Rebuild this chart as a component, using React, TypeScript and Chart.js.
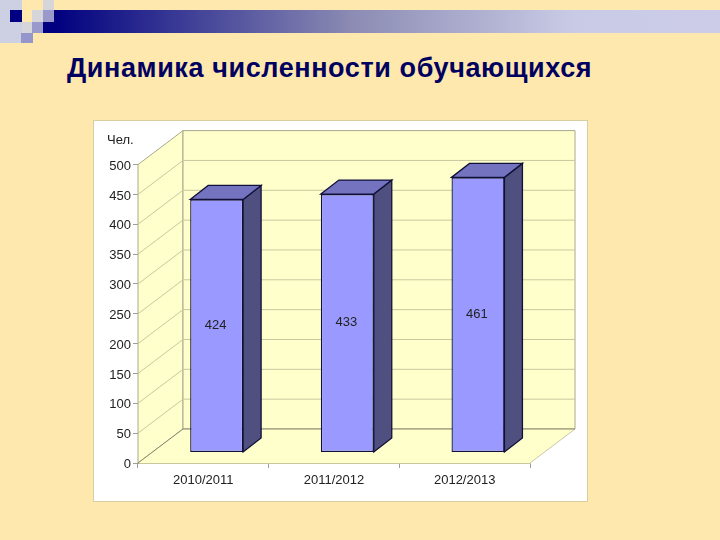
import React, { useRef, useEffect } from 'react';
import { Chart, registerables } from 'chart.js';

Chart.register(...registerables);

const categories = ['2010/2011', '2011/2012', '2012/2013'];
const students = [424, 433, 461];
const yTicks = [0, 50, 100, 150, 200, 250, 300, 350, 400, 450, 500];

// fake 3D: how far the back wall and the bars are pushed from the front plane
const WALL_DX = 45;
const WALL_DY = -34;
const BAR_SHIFT_X = 13.3;
const BAR_SHIFT_Y = -10.5;
const BAR_DX = 18;
const BAR_DY = -14;

const poly = (ctx: CanvasRenderingContext2D, pts: number[][], fill: string | null, stroke: string | null, lw = 1) => {
    ctx.beginPath();
    pts.forEach((p, i) => (i ? ctx.lineTo(p[0], p[1]) : ctx.moveTo(p[0], p[1])));
    ctx.closePath();
    if (fill) {
        ctx.fillStyle = fill;
        ctx.fill();
    }
    if (stroke) {
        ctx.strokeStyle = stroke;
        ctx.lineWidth = lw;
        ctx.stroke();
    }
};

const box3d = {
    id: 'box3d',
    beforeDatasetsDraw(chart: any) {
        const { ctx, chartArea, scales } = chart;
        const { left, right, top, bottom } = chartArea;
        const wall = '#FFFFCC';
        const edge = '#A8A890';
        const grid = '#C8C8A0';
        ctx.save();
        poly(ctx, [[left, top], [left + WALL_DX, top + WALL_DY], [left + WALL_DX, bottom + WALL_DY], [left, bottom]], wall, edge);
        poly(ctx, [[left + WALL_DX, top + WALL_DY], [right + WALL_DX, top + WALL_DY], [right + WALL_DX, bottom + WALL_DY], [left + WALL_DX, bottom + WALL_DY]], wall, edge);
        poly(ctx, [[left, bottom], [right, bottom], [right + WALL_DX, bottom + WALL_DY], [left + WALL_DX, bottom + WALL_DY]], wall, null);
        ctx.strokeStyle = grid;
        ctx.lineWidth = 1;
        ctx.beginPath();
        ctx.moveTo(right, bottom);
        ctx.lineTo(right + WALL_DX, bottom + WALL_DY);
        yTicks.forEach((v) => {
            if (v === 0 || v === 500) return;
            const y = scales.y.getPixelForValue(v);
            ctx.moveTo(left, y);
            ctx.lineTo(left + WALL_DX, y + WALL_DY);
            ctx.lineTo(right + WALL_DX, y + WALL_DY);
        });
        ctx.stroke();
        ctx.strokeStyle = '#86866E';
        ctx.beginPath();
        ctx.moveTo(left, bottom);
        ctx.lineTo(left + WALL_DX, bottom + WALL_DY);
        ctx.lineTo(right + WALL_DX, bottom + WALL_DY);
        ctx.stroke();

        // side and top faces sit behind the bar that chart.js draws
        const line = '#10103A';
        chart.getDatasetMeta(0).data.forEach((bar: any) => {
            const l = bar.x - bar.width / 2 + BAR_SHIFT_X;
            const r = bar.x + bar.width / 2 + BAR_SHIFT_X;
            const t = bar.y + BAR_SHIFT_Y;
            const b = bar.base + BAR_SHIFT_Y;
            poly(ctx, [[r, t], [r + BAR_DX, t + BAR_DY], [r + BAR_DX, b + BAR_DY], [r, b]], '#4F4F80', line, 1.3);
            poly(ctx, [[l, t], [l + BAR_DX, t + BAR_DY], [r + BAR_DX, t + BAR_DY], [r, t]], '#7373BF', line, 1.3);
        });
        ctx.restore();
        // bars are drawn by the library, only moved back into the box
        ctx.save();
        ctx.translate(BAR_SHIFT_X, BAR_SHIFT_Y);
    },
    afterDatasetsDraw(chart: any) {
        const { ctx } = chart;
        ctx.restore();
        ctx.save();
        ctx.font = '13px "Liberation Sans"';
        ctx.fillStyle = '#222222';
        ctx.textAlign = 'center';
        ctx.textBaseline = 'middle';
        chart.getDatasetMeta(0).data.forEach((bar: any, i: number) => {
            ctx.fillText(String(students[i]), bar.x + BAR_SHIFT_X - 1, (bar.y + bar.base) / 2 + BAR_SHIFT_Y - 0.5);
        });
        ctx.textAlign = 'left';
        ctx.fillText('Чел.', 107, 140.5);
        ctx.restore();
    },
};

export default function App() {
    const canvasRef = useRef<HTMLCanvasElement>(null);

    useEffect(() => {
        if (!canvasRef.current) return;
        document.body.style.margin = '0';
        const tickFont = { family: '"Liberation Sans"', size: 13 };
        const axisGrid = { drawOnChartArea: false, drawTicks: true, tickLength: 5, color: '#A0A090' };
        const chart = new Chart(canvasRef.current, {
            type: 'bar',
            data: {
                labels: categories,
                datasets: [
                    {
                        data: students,
                        backgroundColor: '#9999FF',
                        borderColor: '#10103A',
                        borderWidth: 1.3,
                        borderSkipped: false,
                        categoryPercentage: 0.405,
                        barPercentage: 1,
                    },
                ],
            },
            options: {
                responsive: false,
                animation: false,
                layout: { padding: { left: 0, right: 190, top: 164.6, bottom: 0 } },
                plugins: { legend: { display: false }, tooltip: { enabled: false } },
                scales: {
                    x: {
                        grid: axisGrid,
                        border: { color: '#C8C8A0' },
                        ticks: { font: tickFont, color: '#222222', maxRotation: 0, padding: 5 },
                        afterFit: (s: any) => {
                            s.height = 77;
                        },
                    },
                    y: {
                        min: 0,
                        max: 500,
                        grid: axisGrid,
                        border: { color: '#A0A090' },
                        afterBuildTicks: (s: any) => {
                            s.ticks = yTicks.map((value) => ({ value }));
                        },
                        ticks: { font: tickFont, color: '#222222', padding: 2, labelOffset: 1.5 },
                        afterFit: (s: any) => {
                            s.width = 138;
                        },
                    },
                },
            },
            plugins: [box3d],
        } as any);
        return () => chart.destroy();
    }, []);

    const square = (x: number, y: number, w: number, h: number, c: string) => (
        <div style={{ position: 'absolute', left: x, top: y, width: w, height: h, background: c }} />
    );

    return (
        <div style={{ position: 'absolute', left: 0, top: 0, width: 720, height: 540, background: '#FFE8AE', overflow: 'hidden' }}>
            <div style={{ position: 'absolute', left: 54, top: 10, width: 666, height: 23, background: 'linear-gradient(90deg, #000080 0%, #8C8CB4 45%, #C9CBE6 78%, #CCCCE8 100%)' }} />
            {square(0, 0, 22, 43, '#CDCFE2')}
            {square(10, 10, 12, 12, '#000080')}
            {square(21, 33, 12, 10, '#9496CC')}
            {square(22, 22, 10, 11, '#D5D5DA')}
            {square(32, 22, 11, 11, '#9999CC')}
            {square(43, 22, 11, 11, '#000080')}
            {square(32, 10, 11, 12, '#D5D5DA')}
            {square(43, 10, 11, 12, '#9999CC')}
            {square(43, 0, 11, 10, '#D5D5DA')}
            <div style={{ position: 'absolute', left: 67, top: 53, fontFamily: '"Liberation Sans"', fontWeight: 'bold', fontSize: 27, letterSpacing: 0.6, color: '#000060', whiteSpace: 'nowrap' }}>
                Динамика численности обучающихся
            </div>
            <div style={{ position: 'absolute', left: 93, top: 120, width: 493, height: 380, background: '#FFFFFF', border: '1px solid #D8CFA0' }} />
            <canvas ref={canvasRef} width={720} height={540} style={{ position: 'absolute', left: 0, top: 0 }} />
        </div>
    );
}
